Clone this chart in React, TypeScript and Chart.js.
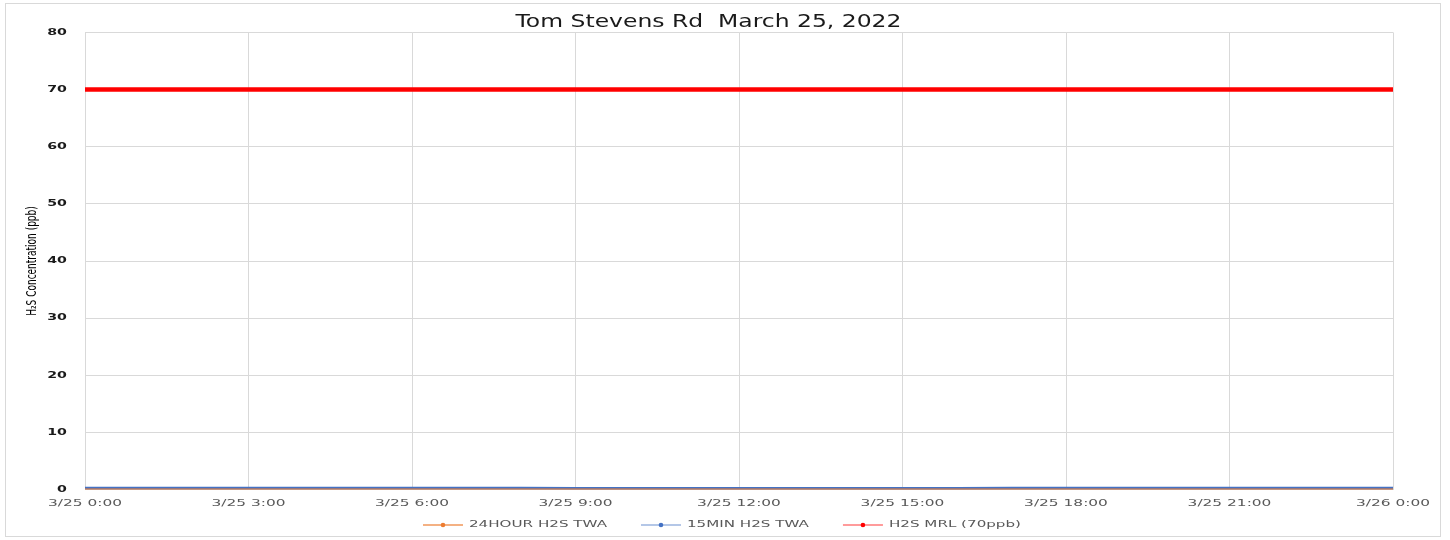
import React, { useEffect, useRef } from "react";
import { Chart, registerables } from "chart.js";

Chart.register(...registerables);

const chartTitle = "Tom Stevens Rd  March 25, 2022";
const yAxisTitle = "H\u2082S Concentration (ppb)";
const hours = [0, 1, 2, 3, 4, 5, 6, 7, 8, 9, 10, 11, 12, 13, 14, 15, 16, 17, 18, 19, 20, 21, 22, 23, 24];
const xTickLabels = ["3/25 0:00", "3/25 3:00", "3/25 6:00", "3/25 9:00", "3/25 12:00", "3/25 15:00", "3/25 18:00", "3/25 21:00", "3/26 0:00"];
const seriesLabels = ["24HOUR H2S TWA", "15MIN H2S TWA", "H2S MRL (70ppb)"];
const twa24h = [0.05, 0.05, 0.05, 0.05, 0.05, 0.05, 0.05, 0.05, 0.05, 0.05, 0.05, 0.05, 0.05, 0.05, 0.05, 0.05, 0.05, 0.05, 0.05, 0.05, 0.05, 0.05, 0.05, 0.05, 0.05];
const twa15m = [0.25, 0.25, 0.25, 0.25, 0.25, 0.25, 0.25, 0.25, 0.25, 0.2, 0.2, 0.2, 0.2, 0.2, 0.2, 0.2, 0.2, 0.25, 0.25, 0.25, 0.25, 0.25, 0.25, 0.25, 0.25];
const mrl = [70, 70, 70, 70, 70, 70, 70, 70, 70, 70, 70, 70, 70, 70, 70, 70, 70, 70, 70, 70, 70, 70, 70, 70, 70];

const lineColors = ["#ED7D31", "#4472C4", "#FF0000"];
const legendLineColors = ["#F4B183", "#B4C7E7", "#FF9B9B"];
const FONT = '"DejaVu Sans", sans-serif';

// Stretch every fillText issued by obj[method] horizontally (in the text's local frame).
function stretchText(obj: any, method: string, sx: number, sy: number) {
  if (!obj || obj["__stretched_" + method]) return;
  const orig = obj[method].bind(obj);
  obj[method] = (...args: any[]) => {
    const c: any = obj.ctx;
    const proto = Object.getPrototypeOf(c);
    const of = proto.fillText;
    c.fillText = function (text: string, x: number, y: number, mw?: number) {
      this.save();
      this.translate(x, y);
      this.scale(sx, sy);
      if (mw === undefined) of.call(this, text, 0, 0);
      else of.call(this, text, 0, 0, mw / sx);
      this.restore();
    };
    try {
      orig(...args);
    } finally {
      delete c.fillText;
    }
  };
  obj["__stretched_" + method] = true;
}

const stretchPlugin = {
  id: "stretchText",
  afterUpdate(chart: any) {
    stretchText(chart.scales.x, "drawLabels", 1.62, 1);
    stretchText(chart.scales.y, "drawLabels", 1.67, 1);
    stretchText(chart.scales.y, "drawTitle", 1, 1.35);
    stretchText(chart.titleBlock, "draw", 1.38, 1);
  },
};

const legendPlugin = {
  id: "excelLegend",
  afterDraw(chart: any) {
    const ctx = chart.ctx as CanvasRenderingContext2D;
    ctx.save();
    ctx.font = "9px " + FONT;
    ctx.textBaseline = "middle";
    ctx.textAlign = "left";
    const sx = 1.68;
    const lineW = 40;
    const gapText = 6;
    const gapItem = 34;
    const cy = 521;
    let x = 417;
    chart.data.datasets.forEach((ds: any, i: number) => {
      ctx.strokeStyle = legendLineColors[i];
      ctx.lineWidth = 2;
      ctx.beginPath();
      ctx.moveTo(x, cy);
      ctx.lineTo(x + lineW, cy);
      ctx.stroke();
      ctx.fillStyle = lineColors[i];
      ctx.beginPath();
      ctx.arc(x + lineW / 2, cy, 2.3, 0, Math.PI * 2);
      ctx.fill();
      ctx.fillStyle = "#595959";
      const tx = x + lineW + gapText;
      const w = ctx.measureText(ds.label).width * sx;
      ctx.save();
      ctx.translate(tx, cy);
      ctx.scale(sx, 1);
      ctx.fillText(ds.label, 0, 0);
      ctx.restore();
      x = tx + w + gapItem;
    });
    ctx.restore();
  },
};

export default function App() {
  const ref = useRef<HTMLCanvasElement | null>(null);

  useEffect(() => {
    if (!ref.current) return;
    const chart = new Chart(ref.current, {
      type: "line",
      data: {
        labels: hours,
        datasets: [
          {
            label: seriesLabels[0],
            data: hours.map((h, i) => ({ x: h, y: twa24h[i] })),
            borderColor: lineColors[0],
            backgroundColor: lineColors[0],
            borderWidth: 1.5,
            pointRadius: 0,
            tension: 0,
          },
          {
            label: seriesLabels[1],
            data: hours.map((h, i) => ({ x: h, y: twa15m[i] })),
            borderColor: lineColors[1],
            backgroundColor: lineColors[1],
            borderWidth: 3,
            pointRadius: 0,
            tension: 0,
          },
          {
            label: seriesLabels[2],
            data: hours.map((h, i) => ({ x: h, y: mrl[i] })),
            borderColor: lineColors[2],
            backgroundColor: lineColors[2],
            borderWidth: 4.5,
            borderCapStyle: "round",
            pointRadius: 0,
            tension: 0,
          },
        ],
      },
      options: {
        responsive: false,
        animation: false,
        devicePixelRatio: 1,
        layout: { padding: { left: 18, right: 47, top: 0, bottom: 19 } },
        plugins: {
          legend: { display: false },
          tooltip: { enabled: false },
          title: {
            display: true,
            text: chartTitle,
            color: "#1A1A1A",
            font: { family: FONT, size: 17, weight: "normal" },
            padding: { top: 8, bottom: 0 },
          },
        },
        scales: {
          x: {
            type: "linear",
            min: 0,
            max: 24,
            ticks: {
              stepSize: 3,
              autoSkip: false,
              maxRotation: 0,
              padding: 8,
              color: "#595959",
              font: { family: FONT, size: 9.5 },
              callback: (v: any) => xTickLabels[Math.round(Number(v) / 3)] ?? "",
            },
            grid: { color: "#D9D9D9", drawTicks: false },
            border: { color: "#D9D9D9" },
          },
          y: {
            min: 0,
            max: 80,
            afterFit: (scale: any) => {
              scale.width = 61;
            },
            ticks: {
              stepSize: 10,
              padding: 18,
              color: "#1A1A1A",
              font: { family: FONT, size: 8.5, weight: "bold" },
            },
            grid: { color: "#D9D9D9", drawTicks: false },
            border: { color: "#D9D9D9" },
            title: {
              display: true,
              text: yAxisTitle,
              color: "#000000",
              padding: { top: 2, bottom: 0 },
              font: { family: '"DejaVu Sans Condensed", "Liberation Sans Narrow", sans-serif', size: 10 },
            },
          },
        },
      },
      plugins: [stretchPlugin, legendPlugin],
    } as any);
    chart.draw();
    return () => chart.destroy();
  }, []);

  return (
    <div
      style={{
        position: "absolute",
        left: 5,
        top: 3,
        width: 1436,
        height: 534,
        border: "1px solid #D9D9D9",
        boxSizing: "border-box",
        background: "#fff",
      }}
    >
      <canvas ref={ref} width={1434} height={532} style={{ display: "block" }} />
    </div>
  );
}
